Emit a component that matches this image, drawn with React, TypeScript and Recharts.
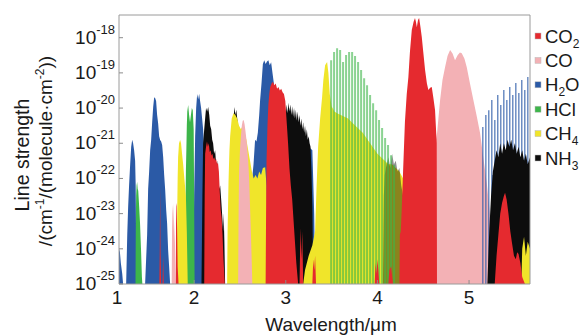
import { ComposedChart, Area, XAxis, YAxis, ReferenceArea } from 'recharts';

// wavelength in μm, line strength as log10(cm^-1/(molecule·cm^-2))
const h2oBands = [
  [1.18, -24.0], [1.19, -24.1], [1.2, -24.4], [1.215, -24.7], [1.225, -25],
  [1.258, -25], [1.27, -23.6], [1.28, -22.8], [1.29, -22.2], [1.302, -21.6], [1.313, -21.1], [1.324, -20.9],
  [1.334, -21.0], [1.345, -21.2], [1.356, -21.5], [1.362, -22.2], [1.366, -23.5], [1.37, -25],
  [1.465, -25], [1.476, -24.3], [1.487, -23.6], [1.498, -22.3], [1.509, -21.8], [1.52, -21.2], [1.531, -20.9],
  [1.542, -20.4], [1.553, -19.97], [1.564, -19.69], [1.575, -19.72], [1.585, -19.8], [1.596, -20.2],
  [1.607, -20.43], [1.618, -20.8], [1.629, -20.91], [1.64, -20.95], [1.651, -21.05], [1.662, -21.39],
  [1.673, -21.9], [1.684, -22.33], [1.695, -22.9], [1.705, -23.27], [1.716, -24.03], [1.727, -24.5], [1.738, -25],
  [1.99, -25], [2.0, -22.5], [2.011, -20.8], [2.022, -20.0], [2.033, -19.6], [2.044, -19.75], [2.055, -19.6],
  [2.065, -19.8], [2.076, -20.0], [2.087, -20.3], [2.098, -20.6], [2.11, -21.2], [2.12, -22], [2.13, -23], [2.14, -25],
  [2.6, -25], [2.62, -23.5], [2.633, -22.0], [2.648, -21.6], [2.665, -20.9], [2.68, -20.95], [2.695, -20.7],
  [2.71, -20.2], [2.72, -19.77], [2.735, -19.3], [2.75, -18.75], [2.765, -18.64], [2.78, -18.75], [2.795, -18.68],
  [2.81, -18.64], [2.825, -18.78], [2.84, -18.7], [2.855, -19.0], [2.87, -19.3], [2.885, -19.57], [2.9, -19.9],
  [2.915, -20.4], [2.93, -20.8], [2.96, -21.0], [3.1, -21.0], [3.2, -21.0], [3.25, -21.1], [3.29, -21.2],
  [3.31, -23], [3.32, -25],
];

const h2oComb = [
  [5.12, -25], [5.142, -20.54], [5.158, -25], [5.175, -20.2], [5.191, -25], [5.207, -20.06], [5.223, -25],
  [5.24, -19.77], [5.256, -21.9], [5.273, -20.34], [5.289, -21.9], [5.305, -19.63], [5.321, -21.9],
  [5.338, -19.91], [5.354, -21.9], [5.371, -19.49], [5.387, -21.9], [5.404, -19.77], [5.42, -21.9],
  [5.436, -19.4], [5.452, -21.9], [5.469, -19.63], [5.485, -21.9], [5.502, -19.29], [5.518, -21.9],
  [5.535, -19.57], [5.551, -21.9], [5.567, -19.2], [5.583, -21.9], [5.6, -19.49], [5.616, -21.9],
  [5.633, -19.12], [5.649, -21.9], [5.665, -21.9],
];

const hclOvertone = [
  [1.36, -25], [1.363, -23.5], [1.367, -22.5], [1.372, -22.2], [1.378, -22.1], [1.384, -22.3], [1.39, -22.35],
  [1.4, -22.8], [1.41, -23.3], [1.42, -24.0], [1.43, -24.8], [1.435, -25],
  [1.9, -25], [1.905, -23.0], [1.91, -21.8], [1.915, -21.2], [1.92, -20.5], [1.925, -20.1], [1.935, -19.91],
  [1.945, -20.2], [1.955, -20.4], [1.965, -20.2], [1.975, -20.0], [1.985, -20.06], [1.995, -20.6],
  [2.0, -22.5], [2.005, -25],
];

const hclFundamental = [
  [3.47, -25], [3.484, -18.64], [3.506, -25], [3.516, -18.41], [3.538, -25], [3.549, -18.3], [3.571, -25],
  [3.582, -18.35], [3.604, -25], [3.614, -18.69], [3.636, -25], [3.647, -18.49], [3.669, -25], [3.68, -18.41],
  [3.702, -25], [3.713, -18.41], [3.735, -25], [3.745, -18.52], [3.767, -25], [3.778, -18.69], [3.8, -25],
  [3.811, -18.92], [3.833, -25], [3.844, -19.15], [3.866, -25], [3.876, -19.35], [3.898, -25], [3.909, -19.63],
  [3.931, -25], [3.942, -19.86], [3.964, -25], [3.975, -20.06], [3.997, -25], [4.007, -20.34], [4.029, -25],
  [4.04, -20.57], [4.062, -25], [4.073, -20.85], [4.095, -25], [4.105, -21.05], [4.127, -25], [4.138, -21.34],
  [4.16, -25], [4.171, -21.62], [4.193, -25],
];

const nh3Bands = [
  [2.08, -25], [2.09, -22.5], [2.098, -21.0], [2.11, -20.6], [2.12, -20.3], [2.13, -20.0], [2.142, -20.1],
  [2.153, -19.97], [2.165, -20.2], [2.175, -20.5], [2.186, -20.6], [2.197, -20.9], [2.207, -21.0],
  [2.218, -21.3], [2.229, -21.2], [2.24, -21.6], [2.251, -21.5], [2.262, -22.0], [2.273, -22.3],
  [2.284, -22.2], [2.295, -22.6], [2.305, -23.0], [2.316, -23.5], [2.322, -22.98], [2.33, -23.8], [2.338, -25],
  [2.39, -25], [2.395, -22.5], [2.4, -21.7], [2.41, -21.2], [2.42, -20.6], [2.43, -20.3], [2.44, -19.97],
  [2.45, -20.2], [2.46, -20.05], [2.47, -20.3], [2.48, -20.5], [2.49, -21.0], [2.5, -22], [2.51, -25],
  [2.93, -25], [2.94, -21.5], [2.96, -20.6], [2.98, -20.3], [2.99, -20.0], [3.0, -20.2], [3.01, -19.9],
  [3.02, -20.15], [3.03, -19.85], [3.04, -20.1], [3.05, -19.9], [3.06, -20.2], [3.07, -19.95], [3.08, -20.25],
  [3.09, -20.0], [3.1, -20.3], [3.11, -20.05], [3.12, -20.35], [3.13, -20.1], [3.14, -20.4], [3.15, -20.2],
  [3.16, -20.5], [3.17, -20.3], [3.18, -20.6], [3.19, -20.4], [3.2, -20.7], [3.21, -20.5], [3.22, -20.8],
  [3.23, -20.6], [3.24, -20.9], [3.25, -20.8], [3.26, -21.0], [3.27, -21.1], [3.28, -21.8], [3.29, -22.8], [3.3, -25],
  [5.2, -25], [5.22, -23.5], [5.24, -22.5], [5.26, -21.8], [5.28, -21.5], [5.3, -21.2], [5.32, -21.4],
  [5.34, -21.0], [5.36, -21.3], [5.38, -21.0], [5.4, -21.2], [5.42, -20.9], [5.44, -21.1], [5.46, -20.9],
  [5.48, -21.2], [5.5, -21.0], [5.52, -21.3], [5.54, -21.1], [5.56, -21.4], [5.58, -21.2], [5.6, -21.5],
  [5.62, -21.3], [5.64, -21.6], [5.665, -21.4],
];

const nh3Weak = [
  [4.06, -25], [4.07, -22.5], [4.08, -21.9], [4.1, -21.6], [4.12, -21.4], [4.14, -21.7], [4.16, -21.3],
  [4.18, -21.6], [4.2, -21.5], [4.22, -21.8], [4.24, -21.7], [4.26, -22.2], [4.28, -22.5], [4.3, -23.2], [4.32, -25],
];

const ch4Bands = [
  [1.81, -25], [1.815, -23.0], [1.82, -22.0], [1.825, -21.4], [1.835, -21.0], [1.847, -20.91], [1.857, -21.0],
  [1.868, -21.3], [1.88, -21.6], [1.89, -21.9], [1.9, -22.2], [1.91, -22.5], [1.92, -23.5], [1.93, -25],
  [2.36, -25], [2.365, -23.5], [2.375, -22.1], [2.385, -21.2], [2.393, -20.8], [2.41, -20.3], [2.43, -20.15],
  [2.45, -20.2], [2.47, -20.3], [2.49, -20.5], [2.51, -20.6], [2.53, -20.5], [2.55, -20.7], [2.57, -20.9],
  [2.59, -21.2], [2.61, -21.5], [2.63, -21.8], [2.65, -22.0], [2.67, -21.9], [2.69, -22.0], [2.71, -21.8],
  [2.73, -21.9], [2.75, -21.7], [2.775, -21.68], [2.79, -22.2], [2.8, -23.5], [2.805, -25],
  [3.19, -25], [3.21, -24.6], [3.25, -24.2], [3.29, -23.9], [3.32, -23.5], [3.335, -22.3], [3.353, -21.1],
  [3.375, -20.3], [3.396, -19.7], [3.41, -19.2], [3.429, -18.78], [3.451, -18.69], [3.465, -19.0],
  [3.48, -19.6], [3.5, -19.95], [3.53, -20.1], [3.56, -20.15], [3.6, -20.2], [3.64, -20.25], [3.68, -20.3],
  [3.72, -20.4], [3.76, -20.5], [3.8, -20.6], [3.84, -20.7], [3.88, -20.85], [3.92, -21.0], [3.96, -21.15],
  [4.0, -21.3], [4.04, -21.4], [4.08, -21.5], [4.12, -21.6], [4.16, -21.6], [4.2, -21.7], [4.24, -21.8],
  [4.28, -22.0], [4.31, -22.5], [4.33, -25],
  [5.57, -25], [5.58, -24.0], [5.6, -23.66], [5.62, -24.2], [5.64, -23.8], [5.665, -24.0],
];

const coOvertone = [
  [1.755, -25], [1.76, -23.0], [1.765, -22.75], [1.77, -23.5], [1.775, -22.7], [1.78, -23.2], [1.79, -23.8], [1.8, -25],
  [2.48, -25], [2.485, -23.0], [2.49, -21.8], [2.5, -21.2], [2.51, -20.8], [2.52, -20.5], [2.53, -20.36],
  [2.54, -20.34], [2.55, -20.45], [2.56, -20.65], [2.575, -21.0], [2.59, -21.5], [2.6, -22.0], [2.61, -22.8],
  [2.62, -23.6], [2.63, -24.5], [2.635, -25],
];

const coFundamental = [
  [4.56, -25], [4.58, -22.5], [4.6, -21.6], [4.62, -21.2], [4.651, -20.71], [4.684, -19.77], [4.71, -19.2],
  [4.738, -18.84], [4.765, -18.52], [4.793, -18.35], [4.82, -18.45], [4.847, -18.64], [4.875, -18.5],
  [4.9, -18.42], [4.92, -18.44], [4.95, -18.6], [4.975, -18.84], [5.01, -19.3], [5.047, -19.77],
  [5.085, -20.25], [5.12, -20.71], [5.155, -21.4], [5.193, -22.13], [5.22, -22.8], [5.247, -23.55],
  [5.275, -24.3], [5.302, -25],
];

const co2Bands = [
  [1.62, -25], [1.625, -24], [1.629, -22.24], [1.633, -24], [1.64, -25],
  [1.655, -25], [1.662, -24.2], [1.668, -25],
  [1.8, -25], [1.803, -22.8], [1.808, -22.7], [1.814, -23.4], [1.82, -24.5], [1.83, -25],
  [2.11, -25], [2.115, -22.5], [2.12, -21.3], [2.13, -21.1], [2.14, -20.95], [2.15, -21.1], [2.16, -21.0],
  [2.17, -21.25], [2.18, -21.2], [2.19, -21.35], [2.2, -21.3], [2.21, -21.45], [2.22, -21.4], [2.23, -21.5],
  [2.24, -21.45], [2.25, -21.6], [2.26, -21.55], [2.27, -21.8], [2.28, -22.4], [2.29, -22.9], [2.3, -23.1],
  [2.31, -23.6], [2.32, -24.3], [2.335, -25],
  [2.78, -25], [2.785, -23.0], [2.79, -21.5], [2.8, -20.5], [2.81, -19.9], [2.82, -19.6], [2.83, -19.4],
  [2.845, -19.3], [2.86, -19.25], [2.875, -19.35], [2.89, -19.3], [2.905, -19.45], [2.92, -19.4],
  [2.935, -19.5], [2.95, -19.45], [2.965, -19.55], [2.98, -19.6], [2.995, -19.8], [3.01, -20.4],
  [3.025, -21.0], [3.04, -21.7], [3.055, -22.2], [3.07, -22.6], [3.085, -23.2], [3.1, -23.8],
  [3.115, -24.4], [3.125, -24.7], [3.135, -25],
  [3.15, -25], [3.16, -23.4], [3.17, -24.3], [3.18, -23.5], [3.19, -25],
  [3.29, -25], [3.3, -24.3], [3.31, -24.6], [3.32, -24.2], [3.33, -25],
  [3.97, -25], [3.98, -24.4], [3.99, -24.7], [4.0, -24.3], [4.01, -24.6], [4.02, -25],
  [4.12, -25], [4.13, -24.6], [4.15, -24.5], [4.17, -25],
  [4.24, -25], [4.245, -23.6], [4.255, -23.5], [4.265, -22.9], [4.28, -21.8], [4.3, -20.4], [4.32, -19.6],
  [4.338, -19.12], [4.355, -18.4], [4.375, -17.78], [4.395, -17.55], [4.41, -17.44], [4.42, -17.55],
  [4.43, -17.7], [4.443, -17.5], [4.455, -17.44], [4.47, -17.7], [4.484, -17.98], [4.5, -18.4],
  [4.52, -18.92], [4.54, -19.3], [4.556, -19.49], [4.575, -19.42], [4.593, -19.4], [4.61, -19.7],
  [4.629, -20.06], [4.647, -20.99], [4.65, -25],
  [5.28, -25], [5.3, -24.2], [5.32, -23.6], [5.34, -23.0], [5.36, -22.7], [5.38, -22.5], [5.393, -22.41],
  [5.41, -22.6], [5.43, -23.0], [5.45, -23.5], [5.469, -23.84], [5.49, -24.2], [5.51, -24.3], [5.525, -24.1],
  [5.54, -24.15], [5.56, -24.4], [5.58, -24.8], [5.61, -25],
];

const xTicks = [1.18, 2, 3, 4, 5];
const yTicks = [-25, -24, -23, -22, -21, -20, -19, -18];

const legendItems = [
  { name: 'CO', sub: '2', color: '#e52a2f' },
  { name: 'CO', sub: '', color: '#f3b1b5' },
  { name: 'H', sub: '2', tail: 'O', color: '#2b5aa6' },
  { name: 'HCl', sub: '', color: '#3db54a' },
  { name: 'CH', sub: '4', color: '#f0e52a' },
  { name: 'NH', sub: '3', color: '#0d0d0d' },
];

const toPts = (arr: number[][]) => arr.map(([x, y]) => ({ x, y }));

// draw order: back to front
const series = [
  { key: 'h2o', data: h2oBands, color: '#2b5aa6', type: 'linear', opacity: 1 },
  { key: 'hcl1', data: hclOvertone, color: '#3db54a', type: 'linear', opacity: 1 },
  { key: 'co1', data: coFundamental, color: '#f3b1b5', type: 'linear', opacity: 1 },
  { key: 'h2oComb', data: h2oComb, color: '#2b5aa6', type: 'stepAfter', opacity: 0.7 },
  { key: 'nh3', data: nh3Bands, color: '#0d0d0d', type: 'linear', opacity: 1 },
  { key: 'ch4', data: ch4Bands, color: '#f0e52a', type: 'linear', opacity: 1 },
  { key: 'nh3Weak', data: nh3Weak, color: '#0d0d0d', type: 'linear', opacity: 0.45 },
  { key: 'hcl2', data: hclFundamental, color: '#3db54a', type: 'stepAfter', opacity: 0.6 },
  { key: 'co2ot', data: coOvertone, color: '#f3b1b5', type: 'linear', opacity: 1 },
  { key: 'co2', data: co2Bands, color: '#e52a2f', type: 'linear', opacity: 1 },
];

const FONT = '"Liberation Sans", Arial, sans-serif';

const YTick = (props: any) => {
  const { x, y, payload } = props;
  return (
    <g>
      <line x1={x} x2={x + 4} y1={y} y2={y} stroke="#8c8c8c" />
      <text x={x - 4} y={y + 6} textAnchor="end" fontSize={19} fill="#1a1a1a" fontFamily={FONT}>
        10<tspan dy={-10} fontSize={13}>{payload.value}</tspan>
      </text>
    </g>
  );
};

const XTick = (props: any) => {
  const { x, y, payload } = props;
  return (
    <g>
      {payload.value > 1.5 && <line x1={x} x2={x} y1={y} y2={y - 4} stroke="#8c8c8c" />}
      <text x={x - (payload.value > 1.5 ? 0 : 2)} y={y + 20} textAnchor="middle" fontSize={19} fill="#1a1a1a" fontFamily={FONT}>
        {Math.round(payload.value)}
      </text>
    </g>
  );
};

export default function App() {
  return (
    <div style={{ position: 'absolute', left: 0, top: 0, width: 584, height: 335, background: '#fff' }}>
      <ComposedChart width={584} height={335} margin={{ top: 15, right: 54, bottom: 0, left: 0 }}>
        <XAxis
          type="number"
          dataKey="x"
          domain={[1.18, 5.665]}
          ticks={xTicks}
          interval={0}
          allowDataOverflow
          height={51}
          axisLine={false}
          tickLine={false}
          tickSize={0}
          tickMargin={0}
          tick={<XTick />}
        />
        <YAxis
          type="number"
          domain={[-25, -17.355]}
          ticks={yTicks}
          interval={0}
          allowDataOverflow
          width={119}
          axisLine={false}
          tickLine={false}
          tickSize={0}
          tickMargin={0}
          tick={<YTick />}
        />
        {series.map((s) => (
          <Area
            key={s.key}
            data={toPts(s.data)}
            dataKey="y"
            type={s.type as any}
            baseValue={-25}
            fill={s.color}
            fillOpacity={s.opacity}
            stroke="none"
            dot={false}
            activeDot={false}
            isAnimationActive={false}
          />
        ))}
        <ReferenceArea x1={1.18} x2={5.665} y1={-25} y2={-17.355} fill="none" stroke="#9a9a9a" strokeWidth={1} />
      </ComposedChart>
      <svg width={584} height={335} style={{ position: 'absolute', left: 0, top: 0, pointerEvents: 'none' }}>
        <g fontFamily={FONT} fill="#1a1a1a">
          <text transform="translate(29,155) rotate(-90)" textAnchor="middle" fontSize={19.5}>Line strength</text>
          <text transform="translate(52,151) rotate(-90)" textAnchor="middle" fontSize={19}>
            /(cm<tspan dy={-8} fontSize={12}>-1</tspan>
            <tspan dy={8}>/(molecule·cm</tspan>
            <tspan dy={-8} fontSize={12}>-2</tspan>
            <tspan dy={8}>))</tspan>
          </text>
          <text x={331} y={331} textAnchor="middle" fontSize={19}>Wavelength/μm</text>
          {legendItems.map((d, i) => {
            const cy = 36 + i * 24.4;
            return (
              <g key={i}>
                <rect x={535} y={cy - 3} width={6} height={6} fill={d.color} stroke="#bbb" strokeWidth={0.5} />
                <text x={545} y={cy + 6.5} fontSize={18.5}>
                  {d.name}
                  {d.sub && <tspan dy={5} fontSize={12}>{d.sub}</tspan>}
                  {d.tail && <tspan dy={-5}>{d.tail}</tspan>}
                </text>
              </g>
            );
          })}
        </g>
      </svg>
    </div>
  );
}
